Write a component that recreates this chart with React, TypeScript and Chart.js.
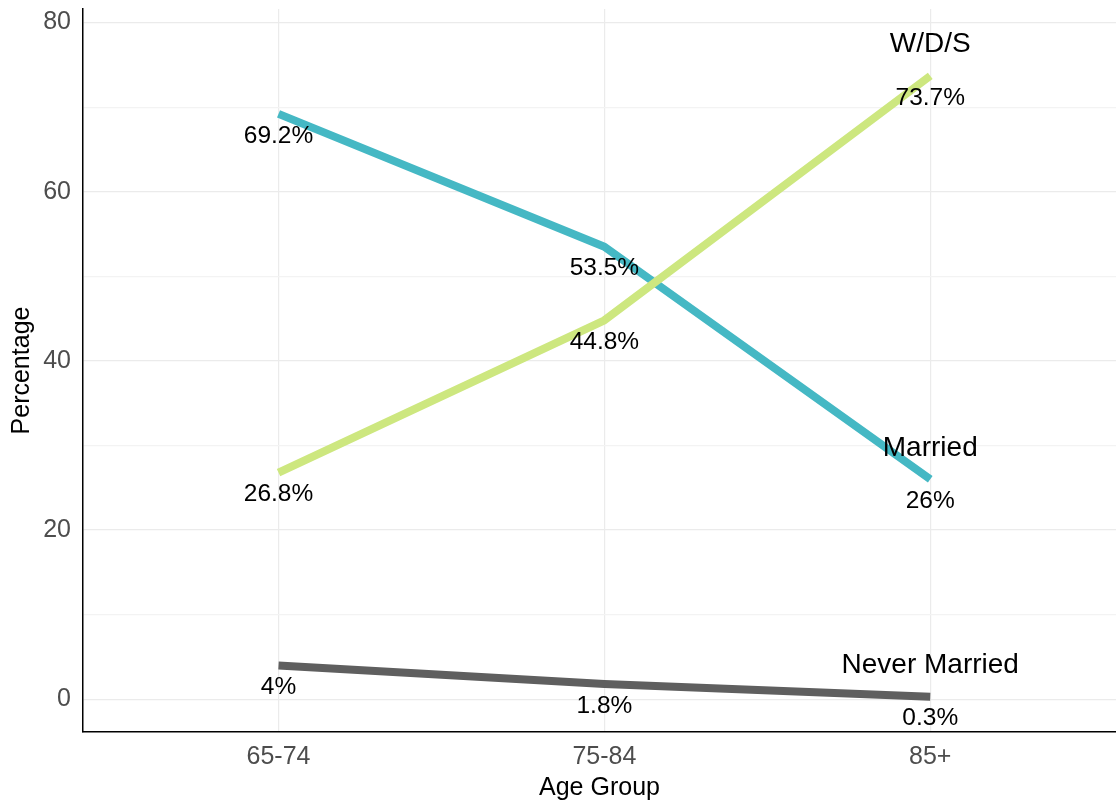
import React, { useEffect, useRef } from "react";
import { Chart, registerables } from "chart.js";

Chart.register(...registerables);

const categories = ["65-74", "75-84", "85+"];
const seriesNames = ["Never Married", "W/D/S", "Married"];
const neverMarried = [4, 1.8, 0.3];
const wds = [26.8, 44.8, 73.7];
const married = [69.2, 53.5, 26];
const seriesColors = ["#5F5F5F", "#CDE77F", "#45B8C4"];
const yTicks = [0, 10, 20, 30, 40, 50, 60, 70, 80];
const yLabelTicks = [0, 20, 40, 60, 80];

const FONT = "Arial, 'Liberation Sans', sans-serif";

const labelPlugin = {
  id: "labels",
  afterDatasetsDraw(chart: any) {
    const ctx = chart.ctx;
    const xs = chart.scales.x;
    const ys = chart.scales.y;
    ctx.save();
    ctx.fillStyle = "#000";
    ctx.textAlign = "center";
    ctx.textBaseline = "middle";
    chart.data.datasets.forEach((ds: any) => {
      ctx.font = `24.5px ${FONT}`;
      ds.data.forEach((p: any) => {
        const px = xs.getPixelForValue(p.x);
        const py = ys.getPixelForValue(p.y);
        ctx.fillText(`${p.y}%`, px, py + 22);
      });
      const last = ds.data[ds.data.length - 1];
      ctx.font = `28px ${FONT}`;
      ctx.fillText(
        ds.label,
        xs.getPixelForValue(last.x),
        ys.getPixelForValue(last.y + 3.7)
      );
    });
    ctx.restore();
  },
};

export default function App() {
  const ref = useRef<HTMLCanvasElement>(null);
  useEffect(() => {
    const values = [neverMarried, wds, married];
    const chart = new Chart(ref.current!, {
      type: "line",
      data: {
        datasets: values.map((vals, i) => ({
          label: seriesNames[i],
          data: vals.map((v, j) => ({ x: j, y: v })),
          borderColor: seriesColors[i],
          backgroundColor: seriesColors[i],
          borderWidth: 8,
          pointRadius: 0,
          tension: 0,
          fill: false,
          borderCapStyle: "butt",
          borderJoinStyle: "round",
        })),
      },
      options: {
        responsive: false,
        animation: false,
        layout: { padding: { top: 9, right: 0, left: 0, bottom: 0 } },
        plugins: {
          legend: { display: false },
          tooltip: { enabled: false },
        },
        scales: {
          x: {
            type: "linear",
            min: -0.6,
            max: 2.57,
            afterBuildTicks: (s: any) => {
              s.ticks = categories.map((_, i) => ({ value: i }));
            },
            afterFit: (s: any) => {
              s.height = 72;
              s.paddingLeft = 0;
              s.paddingRight = 0;
            },
            ticks: {
              callback: (v: any) => categories[v] ?? "",
              color: "#4D4D4D",
              font: { family: FONT, size: 25 },
              padding: 10,
              maxRotation: 0,
              autoSkip: false,
            },
            grid: { color: "#EBEBEB", lineWidth: 1.2, drawTicks: false },
            border: { display: true, color: "#000", width: 1.5 },
            title: {
              display: true,
              text: "Age Group",
              color: "#000",
              font: { family: FONT, size: 25 },
              padding: { top: 0, bottom: 1 },
            },
          },
          y: {
            type: "linear",
            min: -3.87,
            max: 81.6,
            afterBuildTicks: (s: any) => {
              s.ticks = yTicks.map((v) => ({ value: v }));
            },
            afterFit: (s: any) => {
              s.width = 83;
              s.paddingTop = 0;
              s.paddingBottom = 0;
            },
            ticks: {
              callback: (v: any) => (yLabelTicks.includes(v) ? String(v) : ""),
              color: "#4D4D4D",
              font: { family: FONT, size: 25 },
              padding: 12,
              autoSkip: false,
            },
            grid: {
              color: (c: any) =>
                yLabelTicks.includes(c.tick?.value) ? "#EBEBEB" : "#F3F3F3",
              lineWidth: 1.2,
              drawTicks: false,
            },
            border: { display: true, color: "#000", width: 1.5 },
            title: {
              display: true,
              text: "Percentage",
              color: "#000",
              font: { family: FONT, size: 25 },
              padding: { top: 7, bottom: 0 },
            },
          },
        },
      } as any,
      plugins: [labelPlugin],
    });
    return () => chart.destroy();
  }, []);
  return (
    <div style={{ position: "absolute", left: 0, top: 0, width: 1116, height: 804, background: "#fff" }}>
      <canvas ref={ref} width={1116} height={804} style={{ width: 1116, height: 804 }} />
    </div>
  );
}
